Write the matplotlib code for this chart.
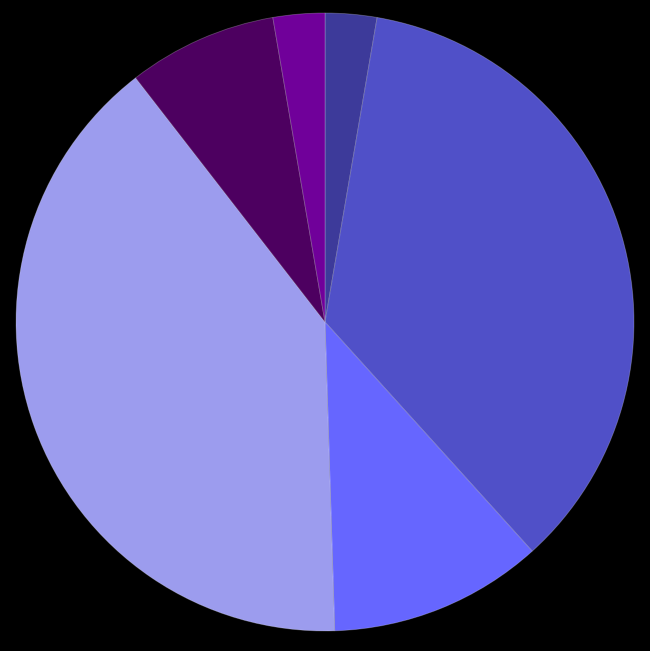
import matplotlib
matplotlib.use("Agg")
import matplotlib.pyplot as plt

# slice shares, clockwise from 12 o'clock
shares = [2.7, 35.6, 11.2, 40.0, 7.8, 2.7]
colors = ["#3d3a9a", "#5050c8", "#6666ff", "#9c9cee", "#4d0060", "#70009a"]

fig = plt.figure(figsize=(6.5, 6.51), dpi=100)
fig.patch.set_facecolor("black")
ax = fig.add_axes([0, 0, 1, 1])
ax.set_facecolor("black")

ax.pie(shares, colors=colors, startangle=90, counterclock=False, radius=1,
       wedgeprops=dict(edgecolor=(1, 1, 1, 0.25), linewidth=0.6))

ax.set_xlim(-325 / 309, 325 / 309)
ax.set_ylim(-329 / 309, 322 / 309)
ax.set_aspect("equal")
ax.axis("off")

fig.savefig("out.png", dpi=100, facecolor="black")
